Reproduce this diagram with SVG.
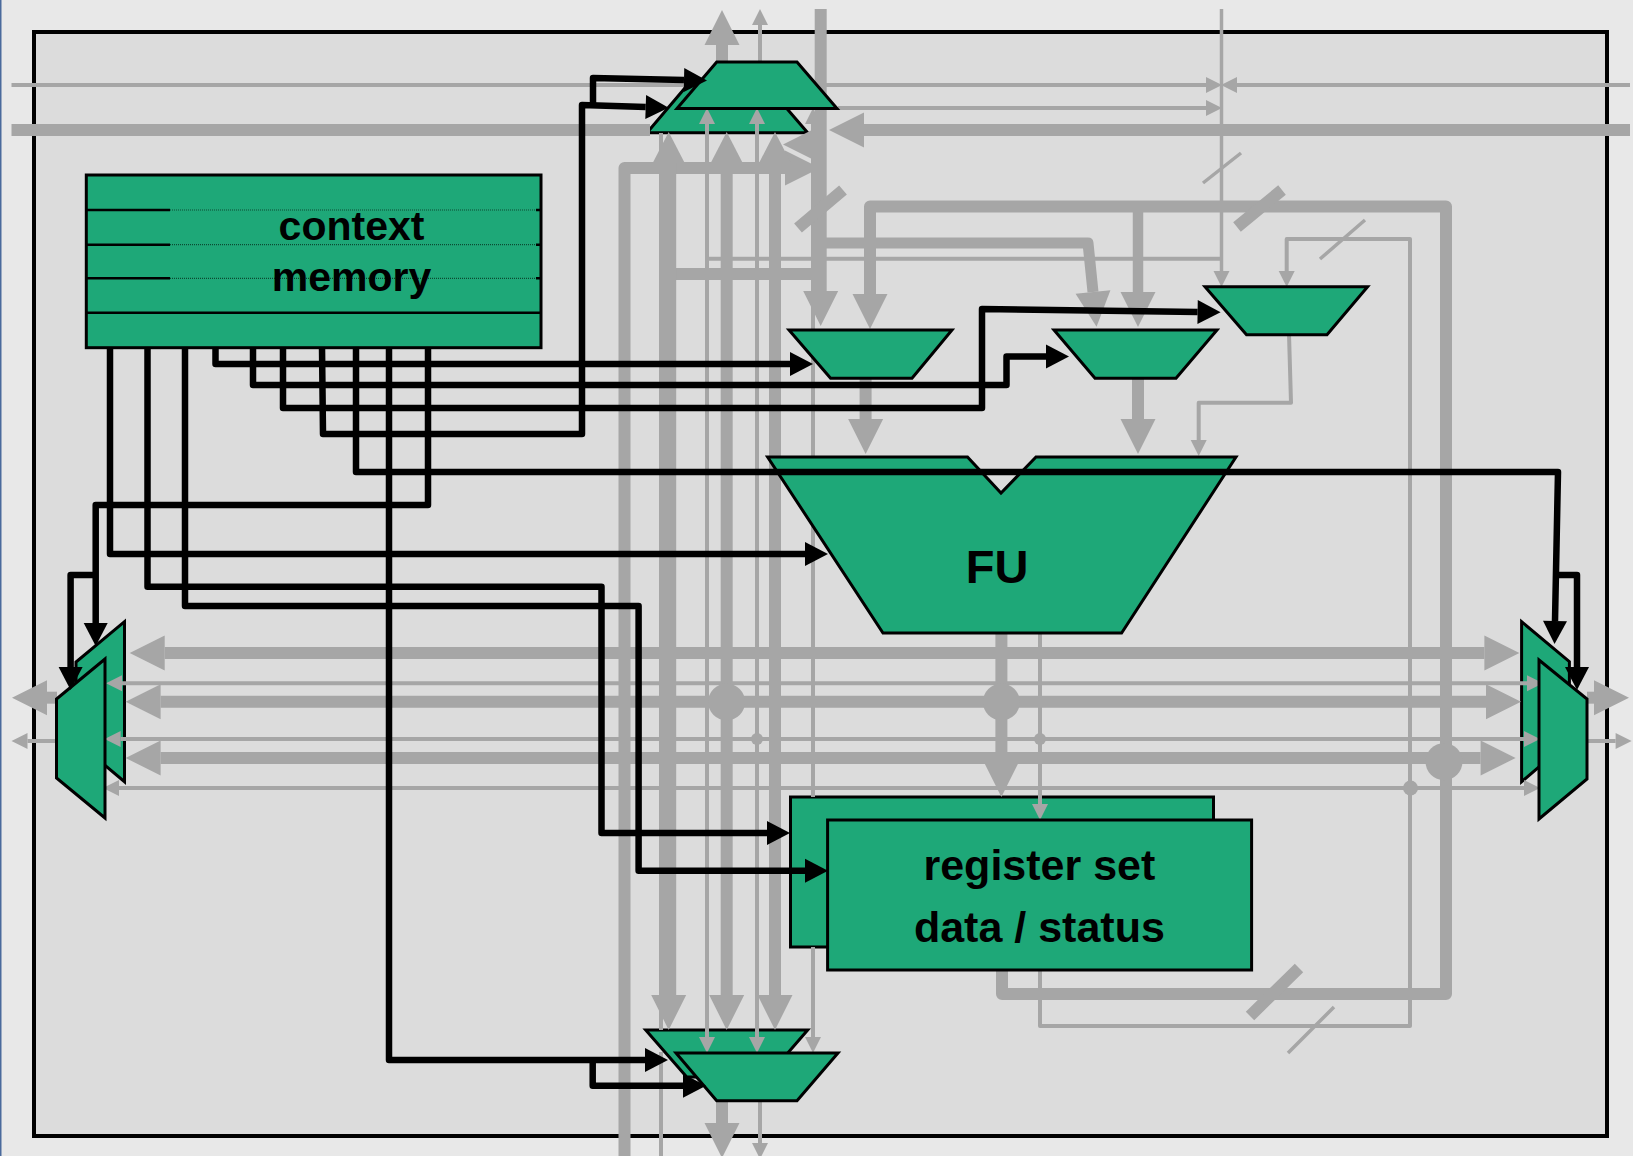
<svg xmlns="http://www.w3.org/2000/svg" width="1633" height="1156" viewBox="0 0 1633 1156">
<style>
.n{fill:#1ea878;stroke:#000;stroke-width:3;stroke-linejoin:miter}
.g{fill:none;stroke:#a6a6a6;stroke-linejoin:round}
.t{stroke-width:12}.w{stroke-width:15}.m{stroke-width:10.5}.s{stroke-width:4}.x{stroke-width:3.5}
.dot{fill:#a6a6a6}
.b{fill:none;stroke:#000;stroke-width:6.5;stroke-linejoin:round}
.l{font-family:"Liberation Sans",Arial,sans-serif;font-weight:700;fill:#000;text-anchor:middle}
.rs{stroke:#000;stroke-width:2.5;fill:none}
.rd{stroke:#0c4a32;stroke-width:1.2;stroke-dasharray:1 1;fill:none}
</style>
<defs>
<marker id="mT" markerUnits="userSpaceOnUse" markerWidth="36" markerHeight="36" refX="0" refY="18" orient="auto-start-reverse" overflow="visible"><path d="M0 .5L35 18L0 35.5Z" fill="#a6a6a6"/></marker>
<marker id="mM" markerUnits="userSpaceOnUse" markerWidth="31" markerHeight="32" refX="0" refY="16" orient="auto-start-reverse" overflow="visible"><path d="M0 0L31 16L0 32Z" fill="#a6a6a6"/></marker>
<marker id="mS" markerUnits="userSpaceOnUse" markerWidth="16" markerHeight="16" refX="0" refY="8" orient="auto-start-reverse" overflow="visible"><path d="M0 0L16 8L0 16Z" fill="#a6a6a6"/></marker>
<marker id="mB" markerUnits="userSpaceOnUse" markerWidth="23" markerHeight="24" refX="0" refY="12" orient="auto-start-reverse" overflow="visible"><path d="M0 0L23 12L0 24Z" fill="#000"/></marker>
</defs>
<rect width="1633" height="1156" fill="#e8e8e8"/>
<rect width="1.5" height="1156" fill="#4a6a9c"/>
<rect x="34" y="32" width="1573" height="1104" fill="#dcdcdc" stroke="#000" stroke-width="4"/>

<g id="mux-top-back"><polygon class="n" points="687,85.5 767,85.5 807.7,132.7 647,132.7"/></g>
<g id="mux-bottom-back"><polygon class="n" points="645.7,1030 807.7,1030 767,1077 686.7,1077"/></g>
<g id="mux-left-back"><polygon class="n" points="124.5,621.7 124.5,781.7 76,741 76,662"/></g>
<g id="mux-right-back"><polygon class="n" points="1521.6,621.7 1569.4,661.7 1569.4,741 1521.6,781.7"/></g>
<g id="register-back"><rect class="n" x="790.5" y="797" width="423" height="150"/></g>

<g id="connectors-data">
<path class="g t" d="M11.5 130H650"/>
<path class="g t" d="M1630 130H864" marker-end="url(#mT)"/>
<path class="g s" d="M11.5 85H687"/>
<path class="g s" d="M820 85H1206" marker-end="url(#mS)"/>
<path class="g s" d="M1630 85H1237" marker-end="url(#mS)"/>
<path class="g s" d="M838 108H1206" marker-end="url(#mS)"/>
<path class="g x" d="M1221.5 9V271" marker-end="url(#mS)"/>
<path class="g t" d="M820.7 9V291" marker-end="url(#mT)"/>
<path class="g" stroke-width="11" d="M820 243H1088L1093 292" marker-end="url(#mT)"/>
<path class="g t" d="M1002 970V994H1446V206.5H870V294" marker-end="url(#mT)"/>
<path class="g m" d="M1138 206V292" marker-end="url(#mT)"/>
<path class="g s" d="M707 258.7H1221"/>
<path class="g t" d="M670 274H820"/>
<path class="g t" d="M624.5 1156V168H785" marker-end="url(#mT)"/>
<path class="g s" d="M821 144.5H818" marker-end="url(#mT)"/>
<path class="g w" d="M668.7 995V163" marker-start="url(#mT)" marker-end="url(#mM)"/>
<path class="g t" d="M726.7 995V163" marker-start="url(#mT)" marker-end="url(#mM)"/>
<path class="g t" d="M775 995V163" marker-start="url(#mT)" marker-end="url(#mM)"/>
<path class="g s" d="M707 1037V124" marker-start="url(#mS)" marker-end="url(#mS)"/>
<path class="g s" d="M757 1037V124" marker-start="url(#mS)" marker-end="url(#mS)"/>
<path class="g s" d="M813 797V124" marker-end="url(#mS)"/>
<path class="g s" d="M813 947V1037" marker-end="url(#mS)"/>
<path class="g s" d="M661 133V1030M661 1052V1156"/>
<path class="g t" d="M722 62V45" marker-end="url(#mT)"/>
<path class="g s" d="M760 62V25" marker-end="url(#mS)"/>
<path class="g t" d="M722 1100V1123" marker-end="url(#mT)"/>
<path class="g s" d="M760 1100V1143" marker-end="url(#mS)"/>
<path class="g t" d="M798 228L843 190M1237 227L1282 190M1250 1016L1299 968"/>
<path class="g x" d="M1203 183L1241 153M1320 259L1365 220M1288 1053L1334 1007"/>
<path class="g s" d="M1040 970V1026H1410V239H1286.7V271" marker-end="url(#mS)"/>
<path class="g s" d="M1040 634V804" marker-end="url(#mS)"/>
<path class="g s" d="M1289 334L1291 402.7H1198.7V440" marker-end="url(#mS)"/>
<path class="g t" d="M865.6 378V419" marker-end="url(#mT)"/>
<path class="g t" d="M1138 378V419" marker-end="url(#mT)"/>
<path class="g t" d="M1001.4 633V762" marker-end="url(#mT)"/>
<path class="g t" d="M164.7 653H1484.4" marker-start="url(#mT)" marker-end="url(#mT)"/>
<path class="g t" d="M160.6 701.7H1486" marker-start="url(#mT)" marker-end="url(#mT)"/>
<path class="g t" d="M160.6 758H1480.6" marker-start="url(#mT)" marker-end="url(#mT)"/>
<path class="g s" d="M122 683.3H1527" marker-start="url(#mS)" marker-end="url(#mS)"/>
<path class="g s" d="M120.6 739H1524" marker-start="url(#mS)" marker-end="url(#mS)"/>
<path class="g s" d="M119 788H1524" marker-start="url(#mS)" marker-end="url(#mS)"/>
<path class="g t" d="M57 697.7H47" marker-end="url(#mT)"/>
<path class="g s" d="M57 741H27.5" marker-end="url(#mS)"/>
<path class="g t" d="M1587 697.7H1594" marker-end="url(#mT)"/>
<path class="g s" d="M1587 741H1615.6" marker-end="url(#mS)"/>
<circle class="dot" cx="726.6" cy="702" r="18.5"/>
<circle class="dot" cx="1001.4" cy="702" r="18.5"/>
<circle class="dot" cx="1444" cy="761.7" r="18.5"/>
<circle class="dot" cx="757" cy="739" r="6"/>
<circle class="dot" cx="1040" cy="739" r="6"/>
<circle class="dot" cx="1410.5" cy="788" r="7.5"/>
</g>

<g id="context-memory">
<rect class="n" x="86.3" y="175" width="454.7" height="172.7"/>
<path class="rs" d="M86 210H170M536 210H541M86 244.7H170M536 244.7H541M86 278.3H170M536 278.3H541M86 312.7H541"/>
<path class="rd" d="M170 210H536M170 244.7H536M170 278.3H536"/>
<text class="l" x="351.5" y="240" font-size="41">context</text>
<text class="l" x="351.5" y="290.7" font-size="41">memory</text>
</g>
<g id="mux-top-front"><polygon class="n" points="716.7,62 797,62 837,108.5 677,108.5"/></g>
<g id="mux-bottom-front"><polygon class="n" points="676,1053 838,1053 797,1100.7 716.7,1100.7"/></g>
<g id="mux-left-front"><polygon class="n" points="105,659 105,818 56.5,778 56.5,699"/></g>
<g id="mux-right-front"><polygon class="n" points="1539,660 1587,699 1587,779 1539,819"/></g>
<g id="mux-1"><polygon class="n" points="789,330 952,330 912,378.3 830.6,378.3"/></g>
<g id="mux-2"><polygon class="n" points="1054,330 1217,330 1176,378.3 1095,378.3"/></g>
<g id="mux-3"><polygon class="n" points="1205,286.7 1367.6,286.7 1327,334.7 1246.5,334.7"/></g>
<g id="fu">
<polygon class="n" points="767.6,457 967.5,457 1001,493 1036,457 1236,457 1121.6,633 883,633"/>
<text class="l" x="997" y="583" font-size="47">FU</text>
</g>
<g id="register-set">
<rect class="n" x="827.6" y="820" width="424" height="150"/>
<text class="l" x="1039.4" y="880" font-size="43">register set</text>
<text class="l" x="1039.4" y="941.5" font-size="43">data / status</text>
</g>

<g id="connectors-control">
<path class="b" d="M215.5 347V364H790" marker-end="url(#mB)"/>
<path class="b" d="M253 347V385H1006.5V356.5H1046" marker-end="url(#mB)"/>
<path class="b" d="M283 347V408H982V309L1197.6 312" marker-end="url(#mB)"/>
<path class="b" d="M322 347L323 434H582V105L645.7 107" marker-end="url(#mB)"/>
<path class="b" d="M593 105V78L684 80" marker-end="url(#mB)"/>
<path class="b" d="M356 347V472H1558L1555 621" marker-end="url(#mB)"/>
<path class="b" d="M1557.5 575H1577V667" marker-end="url(#mB)"/>
<path class="b" d="M389 347V1060H645" marker-end="url(#mB)"/>
<path class="b" d="M592.7 1060V1085.7H683" marker-end="url(#mB)"/>
<path class="b" d="M428 347V505H95.7V623" marker-end="url(#mB)"/>
<path class="b" d="M95.7 575H70.6V667" marker-end="url(#mB)"/>
<path class="b" d="M110 347V554H805" marker-end="url(#mB)"/>
<path class="b" d="M147.5 347V586.7H601.5V833H767" marker-end="url(#mB)"/>
<path class="b" d="M185 347V606H638.6V870.7H805" marker-end="url(#mB)"/>
</g>
</svg>
